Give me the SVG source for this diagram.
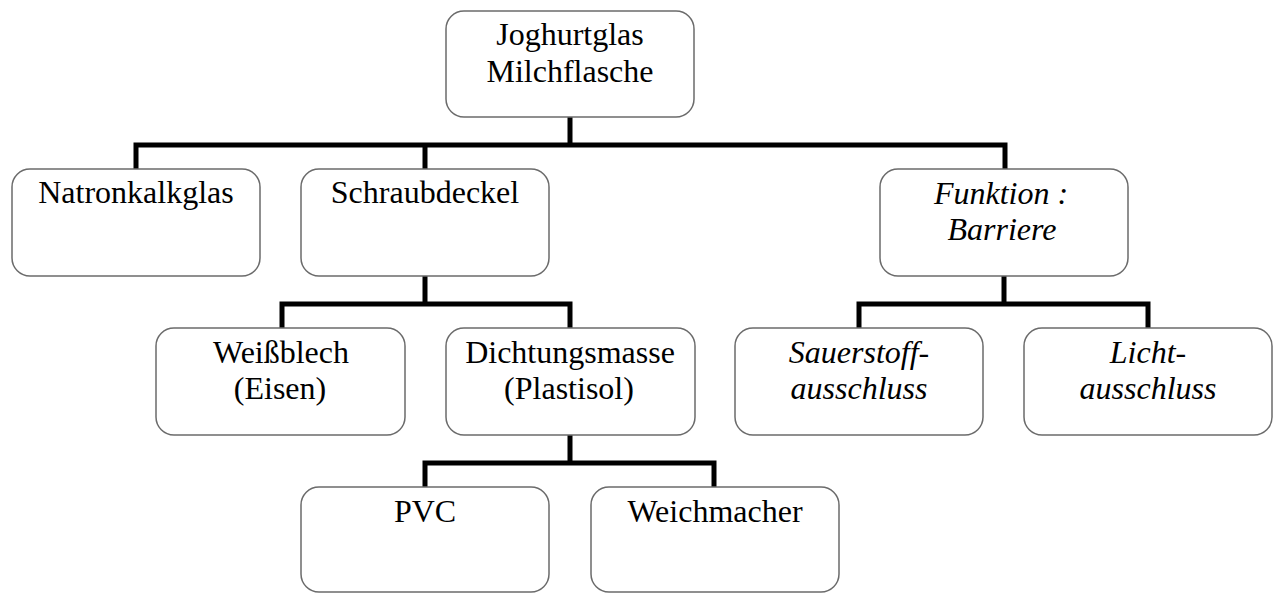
<svg xmlns="http://www.w3.org/2000/svg" width="1275" height="593" viewBox="0 0 1275 593">
  <style>
    .box { fill: #ffffff; stroke: #6b6b6b; stroke-width: 1.5; }
    .lbl { font-family: 'Liberation Serif', 'DejaVu Serif', serif; font-size: 32px; fill: #000000; text-anchor: middle; }
    .it { font-style: italic; }
    .conn { fill: none; stroke: #000000; stroke-width: 5; stroke-linejoin: miter; stroke-linecap: square; }
  </style>
  <rect width="1275" height="593" fill="#ffffff"/>

  <!-- connectors -->
  <g id="connectors">
    <path class="conn" d="M570 117 V145 M136 168 V145 H1005 V168 M425 145 V168"/>
    <path class="conn" d="M425 277 V304 M282 327 V304 H570 V327"/>
    <path class="conn" d="M1004 277 V304 M859 327 V304 H1148 V327"/>
    <path class="conn" d="M570 436 V463 M425 486 V463 H714 V486"/>
  </g>

  <g id="n-joghurtglas">
    <rect class="box" x="446" y="11" width="248" height="106" rx="18"/>
    <text class="lbl" x="570" y="45" font-family="Liberation Serif, serif">Joghurtglas</text>
    <text class="lbl" x="570" y="82" font-family="Liberation Serif, serif">Milchflasche</text>
  </g>

  <g id="n-natronkalkglas">
    <rect class="box" x="12" y="169" width="248" height="107" rx="18"/>
    <text class="lbl" x="136" y="203">Natronkalkglas</text>
  </g>

  <g id="n-schraubdeckel">
    <rect class="box" x="301" y="169" width="248" height="107" rx="18"/>
    <text class="lbl" x="425" y="203">Schraubdeckel</text>
  </g>

  <g id="n-funktion">
    <rect class="box" x="880" y="169" width="248" height="107" rx="18"/>
    <text class="lbl it" x="1001" y="204">Funktion :</text>
    <text class="lbl it" x="1002" y="240">Barriere</text>
  </g>

  <g id="n-weissblech">
    <rect class="box" x="156" y="328" width="249" height="107" rx="18"/>
    <text class="lbl" x="281" y="363">Weißblech</text>
    <text class="lbl" x="280" y="399">(Eisen)</text>
  </g>

  <g id="n-dichtungsmasse">
    <rect class="box" x="446" y="328" width="249" height="107" rx="18"/>
    <text class="lbl" x="570" y="363">Dichtungsmasse</text>
    <text class="lbl" x="569" y="399">(Plastisol)</text>
  </g>

  <g id="n-sauerstoff">
    <rect class="box" x="735" y="328" width="248" height="107" rx="18"/>
    <text class="lbl it" x="859" y="363">Sauerstoff-</text>
    <text class="lbl it" x="859" y="399">ausschluss</text>
  </g>

  <g id="n-licht">
    <rect class="box" x="1024" y="328" width="248" height="107" rx="18"/>
    <text class="lbl it" x="1148" y="363">Licht-</text>
    <text class="lbl it" x="1148" y="399">ausschluss</text>
  </g>

  <g id="n-pvc">
    <rect class="box" x="301" y="487" width="248" height="105" rx="18"/>
    <text class="lbl" x="425" y="522">PVC</text>
  </g>

  <g id="n-weichmacher">
    <rect class="box" x="591" y="487" width="248" height="105" rx="18"/>
    <text class="lbl" x="715" y="522">Weichmacher</text>
  </g>
</svg>
